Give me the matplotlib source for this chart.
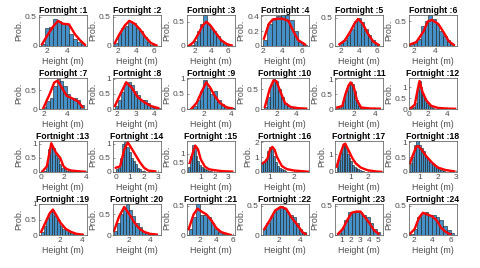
import numpy as np
import matplotlib
matplotlib.use('Agg')
import matplotlib.pyplot as plt

plt.rcParams['font.family'] = ['Liberation Sans', 'DejaVu Sans']

# histogram bins per fortnight: first edge, bin width, bar heights
bin_start = [1.4, 1.6, 1.4, 2.0, 1.8, 1.6, 1.9, 1.9, 1.0, 0.6, 0.4, 0.2,
             0.2, 0.0, 0.1, 0.65, 0.2, 0.45, 0.2, 0.5, 0.6, 0.6, 0.5, 1.6]
bin_width = [0.4, 0.4, 0.4, 0.45, 0.4, 0.35, 0.3, 0.17, 0.25, 0.3, 0.2, 0.2,
             0.2, 0.15, 0.13, 0.08, 0.1, 0.12, 0.25, 0.3, 0.45, 0.3, 0.4, 0.4]
bar_heights = [
    [0.03, 0.3, 0.33, 0.47, 0.42, 0.38, 0.38, 0.2, 0.12, 0.06, 0.03],
    [0.05, 0.2, 0.3, 0.35, 0.43, 0.4, 0.3, 0.25, 0.15, 0.07, 0.02],
    [0.02, 0.1, 0.3, 0.45, 0.65, 0.45, 0.35, 0.3, 0.2, 0.1, 0.05, 0.02],
    [0.08, 0.3, 0.35, 0.4, 0.45, 0.42, 0.35, 0.2, 0.05, 0.02],
    [0.05, 0.1, 0.2, 0.3, 0.45, 0.5, 0.42, 0.3, 0.2, 0.1, 0.04],
    [0.05, 0.08, 0.15, 0.4, 0.5, 0.62, 0.55, 0.45, 0.3, 0.2, 0.12, 0.05],
    [0.05, 0.2, 0.3, 0.6, 0.8, 0.75, 0.6, 0.4, 0.3, 0.3, 0.25, 0.1],
    [0.1, 0.3, 0.55, 0.85, 0.9, 0.8, 0.6, 0.45, 0.3, 0.3, 0.2, 0.1, 0.05, 0.02],
    [0.02, 0.1, 0.3, 0.6, 0.95, 0.7, 0.5, 0.6, 0.3, 0.15, 0.1, 0.05, 0.03, 0.02],
    [0.05, 0.3, 0.6, 0.75, 0.7, 0.5, 0.3, 0.15, 0.08, 0.05, 0.03, 0.02, 0.02],
    [0.05, 0.05, 0.1, 0.3, 0.6, 0.8, 0.9, 0.85, 0.6, 0.3, 0.1, 0.05, 0.03, 0.02],
    [0.05, 0.1, 0.3, 0.9, 1.3, 1.0, 0.7, 0.5, 0.3, 0.2, 0.1, 0.05],
    [0.05, 0.3, 0.8, 1.0, 0.85, 0.6, 0.5, 0.3, 0.15, 0.1, 0.05, 0.05, 0.03],
    [0.1, 0.15, 0.5, 1.0, 1.05, 0.9, 0.7, 0.5, 0.4, 0.3, 0.15, 0.1, 0.05, 0.03],
    [0.3, 0.9, 1.5, 1.3, 0.9, 0.6, 0.4, 0.3, 0.2, 0.15, 0.1, 0.08, 0.05],
    [0.6, 0.7, 0.9, 1.4, 1.7, 1.6, 1.1, 0.7, 0.4, 0.3, 0.2, 0.15, 0.1],
    [0.3, 0.7, 1.1, 1.5, 1.6, 1.4, 1.0, 0.8, 0.6, 0.4, 0.3, 0.2, 0.15, 0.1, 0.08, 0.05],
    [0.3, 0.5, 0.9, 1.1, 0.9, 0.8, 0.7, 0.55, 0.45, 0.35, 0.3, 0.2, 0.15, 0.1, 0.08, 0.05],
    [0.1, 0.3, 0.55, 0.75, 0.8, 0.6, 0.5, 0.3, 0.2, 0.15, 0.1, 0.05, 0.03, 0.02],
    [0.1, 0.3, 0.5, 0.65, 0.75, 0.6, 0.45, 0.3, 0.2, 0.1, 0.05, 0.03, 0.02],
    [0.1, 0.3, 0.55, 0.35, 0.35, 0.3, 0.2, 0.1, 0.05, 0.02, 0.01],
    [0.1, 0.2, 0.3, 0.4, 0.45, 0.5, 0.45, 0.4, 0.35, 0.3, 0.2, 0.1, 0.05],
    [0.03, 0.1, 0.25, 0.4, 0.4, 0.4, 0.4, 0.35, 0.3, 0.2, 0.1, 0.05],
    [0.02, 0.1, 0.3, 0.38, 0.4, 0.35, 0.35, 0.3, 0.25, 0.15, 0.08, 0.03],
]

# red fitted density curves
curve_x = [
    [1.5, 2.1, 2.6, 3.1, 3.6, 4.2, 4.8, 5.3, 5.8],
    [1.7, 2.2, 2.8, 3.3, 3.9, 4.5, 5.1, 5.7, 6.3],
    [1.2, 1.8, 2.4, 2.9, 3.4, 3.9, 4.5, 5.2, 5.9, 6.5],
    [2.1, 2.6, 3.0, 3.5, 4.0, 4.6, 5.1, 5.6, 6.3],
    [1.8, 2.4, 3.0, 3.5, 3.9, 4.4, 5.0, 5.6, 6.2],
    [1.6, 2.2, 2.9, 3.3, 3.7, 4.3, 4.9, 5.3, 5.8],
    [1.9, 2.5, 2.9, 3.2, 3.6, 4.0, 4.5, 5.0, 5.4],
    [1.9, 2.2, 2.5, 2.8, 3.1, 3.4, 3.8, 4.2],
    [1.1, 1.5, 1.9, 2.2, 2.5, 2.8, 3.2, 3.7, 4.1],
    [0.7, 1.2, 1.6, 1.9, 2.3, 2.8, 3.4, 4.2, 5.0],
    [0.4, 0.9, 1.2, 1.5, 1.7, 2.0, 2.3, 2.7, 3.5, 4.5],
    [0.2, 0.6, 0.9, 1.1, 1.4, 1.8, 2.3, 3.0, 4.0, 4.8],
    [0.1, 0.5, 0.9, 1.3, 1.7, 2.0, 2.3, 2.7, 3.5, 3.9],
    [0.0, 0.3, 0.6, 0.85, 1.1, 1.4, 1.7, 2.0, 2.3, 2.8],
    [0.2, 0.4, 0.6, 0.8, 1.0, 1.3, 1.6, 2.0, 2.5, 3.3],
    [0.7, 0.8, 0.9, 1.0, 1.1, 1.2, 1.3, 1.5, 1.7, 2.0, 2.6],
    [0.2, 0.4, 0.6, 0.7, 0.9, 1.1, 1.3, 1.6, 2.0, 2.5, 2.8],
    [0.45, 0.6, 0.8, 0.9, 1.1, 1.4, 1.7, 2.0, 2.4, 2.9],
    [0.2, 0.6, 1.0, 1.3, 1.6, 2.0, 2.5, 3.0, 3.5, 4.1],
    [0.5, 1.0, 1.5, 2.0, 2.5, 3.0, 3.5, 4.0, 4.7],
    [0.6, 1.2, 1.7, 2.2, 2.8, 3.4, 4.0, 4.6, 5.3, 5.8],
    [0.7, 1.2, 1.7, 2.2, 2.7, 3.2, 3.7, 4.2, 4.5],
    [0.6, 1.1, 1.6, 2.1, 2.6, 3.1, 3.6, 4.1, 4.6, 5.1],
    [1.6, 2.1, 2.6, 3.0, 3.5, 4.0, 4.5, 5.0, 5.5, 6.0],
]
curve_y = [
    [0.03, 0.2, 0.33, 0.43, 0.38, 0.37, 0.2, 0.1, 0.02],
    [0.05, 0.2, 0.35, 0.43, 0.38, 0.28, 0.15, 0.05, 0.01],
    [0.0, 0.08, 0.25, 0.42, 0.5, 0.42, 0.28, 0.12, 0.04, 0.01],
    [0.1, 0.3, 0.36, 0.37, 0.37, 0.34, 0.2, 0.08, 0.02],
    [0.03, 0.1, 0.25, 0.4, 0.48, 0.4, 0.22, 0.08, 0.02],
    [0.03, 0.08, 0.3, 0.5, 0.53, 0.45, 0.25, 0.1, 0.02],
    [0.0, 0.4, 0.7, 0.75, 0.55, 0.35, 0.28, 0.2, 0.05],
    [0.1, 0.5, 0.88, 0.7, 0.4, 0.25, 0.1, 0.03],
    [0.0, 0.2, 0.6, 0.88, 0.7, 0.45, 0.2, 0.05, 0.02],
    [0.05, 0.5, 0.72, 0.7, 0.45, 0.15, 0.05, 0.02, 0.01],
    [0.05, 0.1, 0.5, 0.8, 0.9, 0.75, 0.3, 0.05, 0.02, 0.01],
    [0.05, 0.2, 0.9, 1.3, 0.8, 0.4, 0.15, 0.05, 0.02, 0.01],
    [0.02, 0.2, 1.02, 0.7, 0.5, 0.2, 0.1, 0.05, 0.02, 0.01],
    [0.15, 0.2, 0.8, 1.05, 0.85, 0.6, 0.35, 0.15, 0.05, 0.02],
    [0.5, 1.0, 1.45, 1.25, 0.7, 0.3, 0.15, 0.1, 0.05, 0.02],
    [0.6, 0.7, 0.9, 1.5, 1.7, 1.5, 1.0, 0.4, 0.2, 0.1, 0.02],
    [0.3, 1.0, 1.55, 1.6, 1.2, 0.8, 0.5, 0.25, 0.1, 0.03, 0.01],
    [0.3, 0.55, 0.85, 0.88, 0.75, 0.5, 0.3, 0.15, 0.07, 0.02],
    [0.1, 0.4, 0.7, 0.82, 0.65, 0.4, 0.2, 0.1, 0.04, 0.01],
    [0.1, 0.45, 0.68, 0.5, 0.3, 0.15, 0.07, 0.03, 0.01],
    [0.1, 0.35, 0.45, 0.4, 0.35, 0.25, 0.12, 0.05, 0.02, 0.0],
    [0.1, 0.25, 0.42, 0.48, 0.45, 0.3, 0.18, 0.05, 0.01],
    [0.02, 0.1, 0.25, 0.38, 0.4, 0.4, 0.3, 0.2, 0.08, 0.02],
    [0.02, 0.1, 0.3, 0.38, 0.35, 0.32, 0.25, 0.12, 0.05, 0.01],
]

# axis ranges and ticks
x_lims = [(1.2, 6.0), (1.5, 6.8), (1.0, 6.9), (1.8, 6.7), (1.3, 6.7), (1.5, 6.1),
          (1.55, 5.8), (1.8, 4.35), (0.8, 4.3), (0.3, 5.3), (0.2, 4.8), (0.0, 5.0),
          (-0.2, 4.1), (-0.2, 3.2), (0.0, 3.5), (0.63, 2.63), (0.1, 2.9), (0.4, 3.05),
          (0.0, 4.5), (0.4, 5.1), (0.4, 6.3), (0.4, 4.8), (0.25, 5.6), (1.5, 6.7)]
x_ticks = [[2, 4], [2, 4, 6], [2, 4, 6], [2, 4, 6], [2, 4, 6], [2, 4],
           [2, 4], [2, 3, 4], [2, 4], [2, 4], [2, 4], [0, 2, 4],
           [0, 2, 4], [0, 1, 2, 3], [1, 2, 3], [1, 2], [1, 2], [1, 2, 3],
           [2, 4], [2, 4], [2, 4, 6], [2, 4], [1, 2, 3, 4, 5], [2, 4, 6]]
y_tops = [0.53, 0.53, 0.64, 0.42, 0.55, 0.63,
          0.82, 1.02, 1.02, 0.78, 1.05, 1.44,
          1.1, 1.1, 1.7, 2.1, 1.75, 1.05,
          1.0, 0.75, 0.53, 0.53, 0.53, 0.53]
y_ticks = [[0, 0.5], [0, 0.5], [0, 0.5], [0, 0.2, 0.4], [0, 0.5], [0, 0.5],
           [0, 0.5], [0, 0.5, 1], [0, 0.5, 1], [0, 0.5], [0, 0.5, 1], [0, 0.5, 1],
           [0, 0.5, 1], [0, 0.5, 1], [0, 0.5, 1], [0, 1, 2], [0, 1], [0, 0.5, 1],
           [0, 0.5, 1], [0, 0.5], [0, 0.5], [0, 0.5], [0, 0.5], [0, 0.5]]

W, H = 480, 268
fig = plt.figure(figsize=(W / 100, H / 100), dpi=100)
grey = '#4d4d4d'

for i in range(24):
    r, c = divmod(i, 6)
    left = 39 + 74 * c
    top = 15 + 63 * r
    ax = fig.add_axes([left / W, 1 - (top + 31) / H, 48 / W, 31 / H])
    heights = bar_heights[i]
    edges = bin_start[i] + bin_width[i] * np.arange(len(heights))
    ax.bar(edges, heights, width=bin_width[i], align='edge', color='#4590c6',
           edgecolor='#1a1a1a', linewidth=0.4)
    ax.plot(curve_x[i], curve_y[i], color='red', linewidth=1.7)
    ax.set_xlim(x_lims[i])
    ax.set_ylim(0, y_tops[i])
    ax.set_xticks(x_ticks[i])
    ax.set_yticks(y_ticks[i])
    ax.set_yticklabels([f'{t:g}' for t in y_ticks[i]])
    ax.tick_params(direction='in', length=1.5, width=0.4, labelsize=6,
                   colors=grey, pad=1.5)
    for s in ax.spines.values():
        s.set_linewidth(0.5)
        s.set_color(grey)
    ax.set_title(f'Fortnight :{i + 1}', fontsize=6.2, fontweight='bold', pad=1.5)
    ax.set_xlabel('Height (m)', fontsize=6.4, color=grey, labelpad=1.5)
    ax.set_ylabel('Prob.', fontsize=6.4, color=grey, labelpad=1.5)

fig.savefig('out.png', dpi=100)
